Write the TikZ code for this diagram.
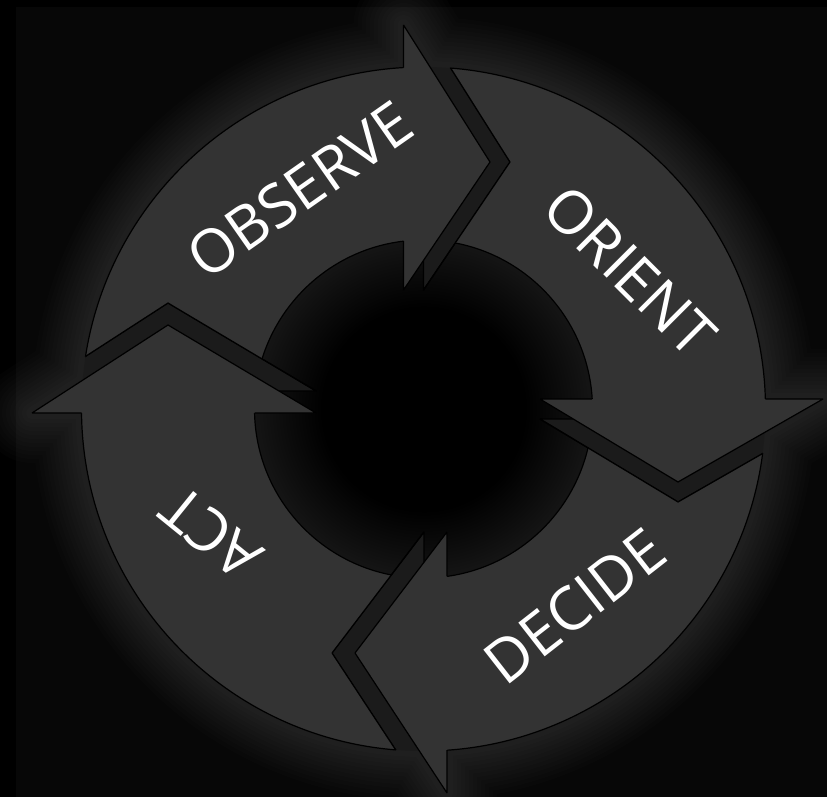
\documentclass[tikz,border=0pt]{standalone}
\usepackage{fontspec}
\setmainfont{Open Sans}
\definecolor{seg}{HTML}{333333}
\definecolor{bandc}{HTML}{1B1B1B}
\definecolor{bgc}{HTML}{070707}
\definecolor{rimc}{HTML}{151515}
\pgfdeclareradialshading{holeshade}{\pgfpoint{0bp}{0bp}}{color(0bp)=(black); color(15bp)=(black); color(25bp)=(rimc); color(50bp)=(rimc)}
\begin{document}
\begin{tikzpicture}[x=1pt,y=-1pt,
  edge/.style={draw=black, line width=1.2pt, line join=round},
  bandfill/.style={fill=bandc, draw=black, line width=1.2pt, line join=round},
  lbl/.style={text=white, font=\fontsize{60}{72}\selectfont, inner sep=0pt}]
\useasboundingbox (0,0) rectangle (827,797);
\fill[black] (0,0) rectangle (827,797);
\fill[bgc] (16,7) rectangle (827,797);
\coordinate (C) at (423.5,409);
% arrowheads
\coordinate (Oa) at (403.5,25);  \coordinate (Ot) at (490,162); \coordinate (Ob) at (403.5,290);
\coordinate (Ra) at (823,399);   \coordinate (Rt) at (678,482); \coordinate (Rb) at (540,399);
\coordinate (Da) at (447,793);   \coordinate (Dt) at (355,653); \coordinate (Db) at (447,532);
\coordinate (Aa) at (32,413);    \coordinate (At) at (168,325); \coordinate (Ab) at (316,413);
% shifted copies (bands / notches)
\coordinate (Os1) at (423.5,25); \coordinate (Os2) at (510,162); \coordinate (Os3) at (423.5,290);
\coordinate (Rs1) at (823,419);  \coordinate (Rs2) at (678,502); \coordinate (Rs3) at (540,419);
\coordinate (Ds1) at (424,793);  \coordinate (Ds2) at (332,653); \coordinate (Ds3) at (424,532);
\coordinate (As1) at (32,391);   \coordinate (As2) at (168,303); \coordinate (As3) at (316,391);
% glow
\foreach \w in {100,92,84,76,68,60,52,44,36,28,20,12}{
  \begin{scope}[transparency group, opacity=0.011]
    \draw[white, line width=\w pt, line join=round] (C) circle (342)
      (Oa)--(Ot)--(Ob)--cycle (Ra)--(Rt)--(Rb)--cycle
      (Da)--(Dt)--(Db)--cycle (Aa)--(At)--(Ab)--cycle;
  \end{scope}}
% hole
\shade[shading=holeshade] (C) circle (169);
% bands
\begin{scope}
  \clip (C) circle (342);
  \filldraw[bandfill] (Os1)--(Os2)--(Os3)--cycle;
  \filldraw[bandfill] (Rs1)--(Rs2)--(Rs3)--cycle;
  \filldraw[bandfill] (Ds1)--(Ds2)--(Ds3)--cycle;
  \filldraw[bandfill] (As1)--(As2)--(As3)--cycle;
\end{scope}
% bodies (each extended a little under its arrowhead)
\begin{scope}
  \clip (As1)--(As2)--(As3)--(407,409)--(407,-50)--(-50,-50)--(-50,391)--cycle;
  \fill[seg, even odd rule] (C) circle (342) (C) circle (169);
  \draw[edge] (C) circle (342) (C) circle (169);
\end{scope}
\begin{scope}
  \clip (423.5,-50)--(Os1)--(Os2)--(Os3)--(423.5,402)--(900,402)--(900,-50)--cycle;
  \fill[seg, even odd rule] (C) circle (342) (C) circle (169);
  \draw[edge] (C) circle (342) (C) circle (169);
\end{scope}
\begin{scope}
  \clip (900,419)--(Rs1)--(Rs2)--(Rs3)--(444,419)--(444,900)--(900,900)--cycle;
  \fill[seg, even odd rule] (C) circle (342) (C) circle (169);
  \draw[edge] (C) circle (342) (C) circle (169);
\end{scope}
\begin{scope}
  \clip (424,900)--(Ds1)--(Ds2)--(Ds3)--(424,410)--(-50,410)--(-50,900)--cycle;
  \fill[seg, even odd rule] (C) circle (342) (C) circle (169);
  \draw[edge] (C) circle (342) (C) circle (169);
\end{scope}
% notch strokes
\begin{scope}
  \clip (C) circle (342);
  \draw[edge] (Os1)--(Os2)--(Os3);
  \draw[edge] (Rs1)--(Rs2)--(Rs3);
  \draw[edge] (Ds1)--(Ds2)--(Ds3);
  \draw[edge] (As1)--(As2)--(As3);
\end{scope}
% arrowheads
\fill[seg] (Oa)--(Ot)--(Ob)--cycle;
\draw[edge] (Oa)--(Ot)--(Ob) (Oa)--(403.5,67.6) (403.5,241.2)--(Ob);
\fill[seg] (Ra)--(Rt)--(Rb)--cycle;
\draw[edge] (Ra)--(Rt)--(Rb) (Ra)--(765.4,399) (592.2,399)--(Rb);
\fill[seg] (Da)--(Dt)--(Db)--cycle;
\draw[edge] (Da)--(Dt)--(Db) (Da)--(447,750.2) (447,576.4)--(Db);
\fill[seg] (Aa)--(At)--(Ab)--cycle;
\draw[edge] (Aa)--(At)--(Ab) (Aa)--(81.5,413) (254.5,413)--(Ab);
% labels
\node[lbl, rotate=35] (observe) at (300,190) {OBSERVE};
\node[lbl, rotate=-45] (orient) at (630,271) {ORIENT};
\node[lbl, rotate=38] (decide) at (575,606) {DECIDE};
\node[lbl, rotate=141] (act) at (211,533) {ACT};
\end{tikzpicture}
\end{document}
